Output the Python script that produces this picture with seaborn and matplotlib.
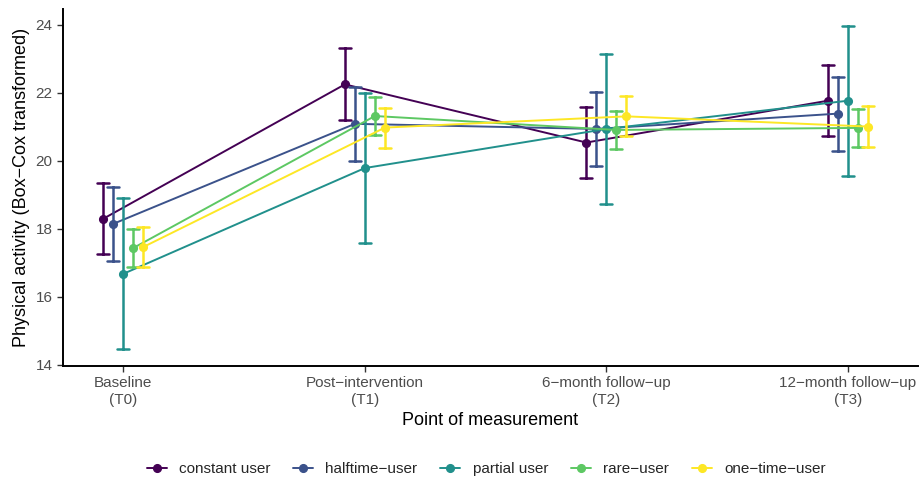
import numpy as np
import pandas as pd
import matplotlib
matplotlib.use("Agg")
import matplotlib.pyplot as plt
import seaborn as sns

# --- Data ---
timepoints = ["Baseline\n(T0)", "Post\u2212intervention\n(T1)",
              "6\u2212month follow\u2212up\n(T2)", "12\u2212month follow\u2212up\n(T3)"]
groups = ["constant user", "halftime\u2212user", "partial user", "rare\u2212user", "one\u2212time\u2212user"]
colors = ["#440154", "#3B528B", "#21908C", "#5DC863", "#FDE725"]

# estimated marginal means per group (T0..T3)
mean_constant = [18.29, 22.24, 20.53, 21.76]
mean_halftime = [18.14, 21.08, 20.93, 21.38]
mean_partial = [16.67, 19.78, 20.93, 21.76]
mean_rare = [17.43, 21.31, 20.90, 20.96]
mean_onetime = [17.46, 20.97, 21.30, 21.00]

# half-width of the confidence interval per group (T0..T3)
ci_constant = [1.05, 1.06, 1.05, 1.05]
ci_halftime = [1.08, 1.09, 1.09, 1.09]
ci_partial = [2.22, 2.21, 2.21, 2.21]
ci_rare = [0.55, 0.55, 0.55, 0.55]
ci_onetime = [0.58, 0.59, 0.59, 0.59]

means = [mean_constant, mean_halftime, mean_partial, mean_rare, mean_onetime]
cis = [ci_constant, ci_halftime, ci_partial, ci_rare, ci_onetime]

# long table: lower bound, mean, upper bound -> median + full range gives point and CI
rows = []
for g, m_list, c_list in zip(groups, means, cis):
    for t, m, c in zip(timepoints, m_list, c_list):
        for v in (m - c, m, m + c):
            rows.append({"time": t, "group": g, "value": v})
df = pd.DataFrame(rows)

sns.set_style("ticks")
plt.rcParams["font.family"] = ["Liberation Sans", "DejaVu Sans"]

fig = plt.figure(figsize=(9.21, 4.86), dpi=100)
ax = fig.add_axes([0.0684, 0.247, 0.9283, 0.734])

sns.pointplot(
    data=df, x="time", y="value", hue="group",
    order=timepoints, hue_order=groups, palette=colors,
    estimator="median", errorbar=("pi", 100),
    dodge=0.166, capsize=0.05, markersize=5.5, linewidth=1.4,
    err_kws={"linewidth": 1.8}, ax=ax,
)

ax.set_xlim(-0.25, 3.29)
ax.set_ylim(13.96, 24.45)
ax.set_yticks([14, 16, 18, 20, 22, 24])
ax.set_xlabel("Point of measurement", fontsize=13, color="black")
ax.set_ylabel("Physical activity (Box\u2212Cox transformed)", fontsize=13, color="black")
ax.tick_params(axis="both", labelsize=11, labelcolor="#4D4D4D", color="#333333",
               length=4, width=1)
for side in ["top", "right"]:
    ax.spines[side].set_visible(False)
for side in ["left", "bottom"]:
    ax.spines[side].set_linewidth(1.4)
    ax.spines[side].set_color("black")

ax.legend(title=None, loc="upper center", bbox_to_anchor=(0.495, -0.232),
          ncol=5, frameon=False, fontsize=11, handlelength=1.3,
          columnspacing=1.5, handletextpad=0.8)

fig.savefig("out.png", dpi=100)
